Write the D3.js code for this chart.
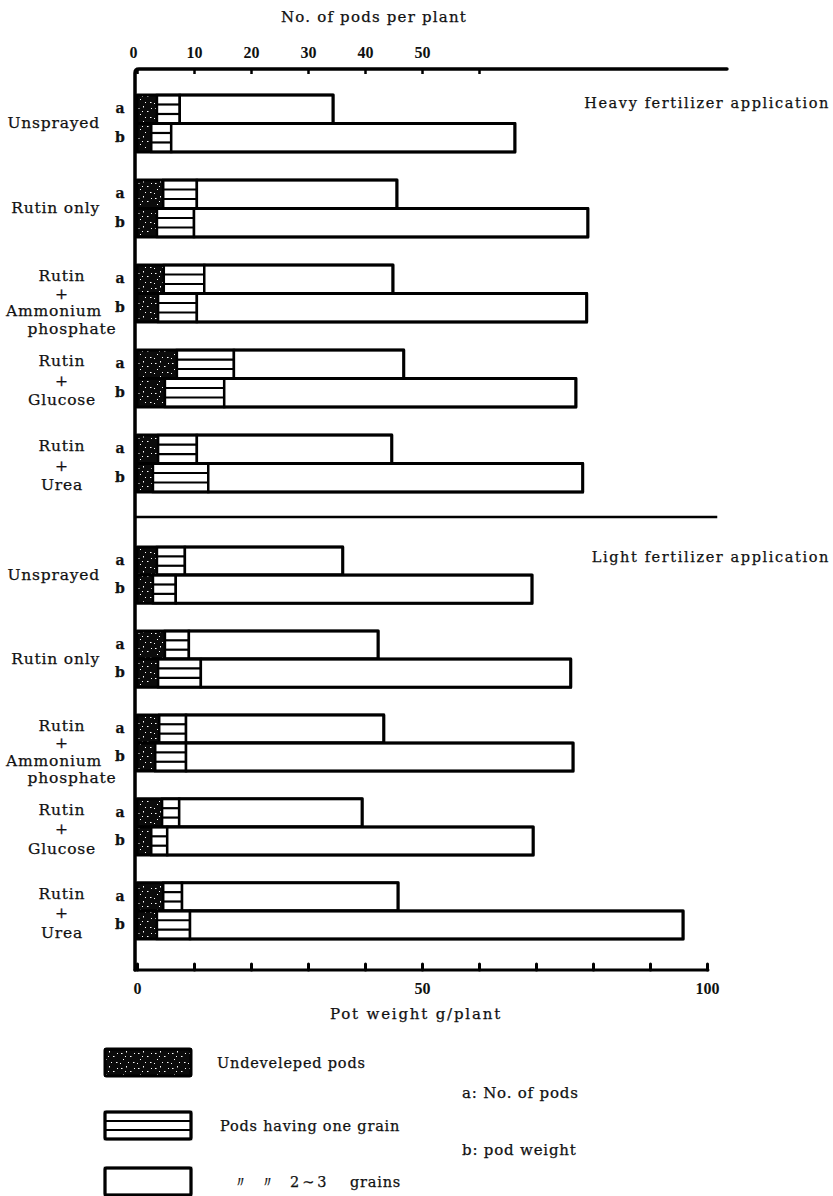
<!DOCTYPE html>
<html>
<head>
<meta charset="utf-8">
<script src="https://cdn.jsdelivr.net/npm/d3@7"></script>
<style>
  body { margin: 0; background: #fff; }
  .lbl { font-family: "DejaVu Serif", "Liberation Serif", serif; fill: #111; stroke: #111; stroke-width: 0.25; }
  .num { font-family: "Liberation Sans Narrow", "Liberation Serif", serif; font-weight: bold; fill: #111; }
</style>
</head>
<body>
<svg id="chart" width="833" height="1196"></svg>
<script>
// Treatments (top to bottom within each fertilizer level)
const treatments = ["Unsprayed", "Rutin only", "Rutin + Ammonium phosphate", "Rutin + Glucose", "Rutin + Urea"];
const treatmentLines = [["Unsprayed"], ["Rutin only"], ["Rutin", "+", "Ammonium", "phosphate"], ["Rutin", "+", "Glucose"], ["Rutin", "+", "Urea"]];
const segmentKeys = ["undeveloped", "oneGrain", "twoThree"];

// Heavy fertilizer — a: number of pods per plant
const heavyPodsUndeveloped = [3.5, 4.6, 4.7, 7.0, 3.7];
const heavyPodsOneGrain    = [4.0, 5.9, 7.1, 10.0, 6.8];
const heavyPodsTwoThree    = [26.9, 35.1, 33.1, 29.8, 34.2];
// Heavy fertilizer — b: pod weight g/plant
const heavyWeightUndeveloped = [2.5, 3.5, 3.7, 4.9, 2.8];
const heavyWeightOneGrain    = [3.5, 6.5, 6.8, 10.4, 9.7];
const heavyWeightTwoThree    = [60.3, 69.1, 68.4, 61.7, 65.7];

// Light fertilizer — a: number of pods per plant
const lightPodsUndeveloped = [3.5, 4.9, 3.9, 4.4, 4.6];
const lightPodsOneGrain    = [4.9, 4.2, 4.7, 3.0, 3.3];
const lightPodsTwoThree    = [27.7, 33.2, 34.7, 32.1, 37.9];
// Light fertilizer — b: pod weight g/plant
const lightWeightUndeveloped = [2.8, 3.7, 3.2, 2.5, 3.5];
const lightWeightOneGrain    = [4.0, 7.5, 5.4, 2.8, 5.8];
const lightWeightTwoThree    = [62.5, 64.9, 67.9, 64.2, 86.5];

// Axis ticks
const podTicks = [0, 10, 20, 30, 40, 50, 60];
const podTickLabels = ["0", "10", "20", "30", "40", "50", ""];
const weightTicks = [0, 10, 20, 30, 40, 50, 60, 70, 80, 90, 100];
const weightTickLabels = ["0", "", "", "", "", "50", "", "", "", "", "100"];

function rowsFrom(und, one, multi) {
  return treatments.map((t, i) => ({ treatment: t, undeveloped: und[i], oneGrain: one[i], twoThree: multi[i] }));
}

const svg = d3.select("#chart");
const x = d3.scaleLinear().domain([0, 100]).range([137, 707]);
const stack = d3.stack().keys(segmentKeys);

// Speckled dark fill for undeveloped pods
const defs = svg.append("defs");
const pat = defs.append("pattern").attr("id", "speckle")
  .attr("patternUnits", "userSpaceOnUse").attr("width", 17).attr("height", 15);
pat.append("rect").attr("width", 17).attr("height", 15).attr("fill", "#0b0b0b");
[[2, 3, 1.5, 1], [7, 1, 1, 1.5], [11, 6, 1.5, 1], [4, 9, 1, 1], [14, 12, 1.5, 1],
 [9, 12, 1, 1], [15, 3, 1, 1], [1, 13, 1, 1], [6, 6, 1, 1]].forEach(s => {
  pat.append("rect").attr("x", s[0]).attr("y", s[1]).attr("width", s[2]).attr("height", s[3]).attr("fill", "#fff");
});

const yHeavy = d3.scaleBand().domain(treatments).range([95, 492]).paddingInner(0.33).paddingOuter(0).align(0);
const yLight = d3.scaleBand().domain(treatments).range([547, 939]).paddingInner(0.33).paddingOuter(0).align(0);

function drawSegment(g, key, x0, x1, y, h) {
  if (key === "undeveloped") {
    g.append("rect").attr("x", x0).attr("y", y).attr("width", x1 - x0).attr("height", h)
      .attr("fill", "url(#speckle)").attr("stroke", "#000").attr("stroke-width", 1.5);
  } else if (key === "oneGrain") {
    g.append("rect").attr("x", x0).attr("y", y).attr("width", x1 - x0).attr("height", h)
      .attr("fill", "#fff").attr("stroke", "#000").attr("stroke-width", 2.5);
    [1, 2].forEach(k => {
      g.append("line").attr("x1", x0).attr("x2", x1)
        .attr("y1", y + h * k / 3).attr("y2", y + h * k / 3)
        .attr("stroke", "#000").attr("stroke-width", 2.2);
    });
  } else {
    g.append("rect").attr("x", x0).attr("y", y).attr("width", x1 - x0).attr("height", h)
      .attr("fill", "#fff").attr("stroke", "#000").attr("stroke-width", 2.5);
  }
}

function drawPanel(yScale, podRows, weightRows) {
  const sub = d3.scaleBand().domain(["a", "b"]).range([0, yScale.bandwidth()]);
  const g = svg.append("g");
  [["a", podRows], ["b", weightRows]].forEach(([m, rows]) => {
    const series = stack(rows);
    series.forEach(layer => {
      layer.forEach(d => {
        const y = yScale(d.data.treatment) + sub(m);
        drawSegment(g, layer.key, x(d[0]), x(d[1]), y, sub.bandwidth());
      });
    });
    // outer outline of each bar
    series[series.length - 1].forEach(d => {
      const y = yScale(d.data.treatment) + sub(m);
      g.append("rect").attr("x", x(0)).attr("y", y).attr("width", x(d[1]) - x(0)).attr("height", sub.bandwidth())
        .attr("fill", "none").attr("stroke", "#000").attr("stroke-width", 3).attr("stroke-linejoin", "round");
    });
    // a / b markers
    treatments.forEach(t => {
      g.append("text").attr("class", "lbl").attr("x", 120).attr("y", yScale(t) + sub(m) + sub.bandwidth() / 2 + 4)
        .attr("text-anchor", "middle").attr("font-size", 14).attr("font-weight", "bold").text(m);
    });
  });
  // treatment names
  treatmentLines.forEach((lines, i) => {
    const top = yScale(treatments[i]);
    if (lines.length === 1) {
      g.append("text").attr("class", "lbl").attr("x", 100).attr("y", top + yScale.bandwidth() / 2 + 5)
        .attr("text-anchor", "end").attr("font-size", 15.5).attr("letter-spacing", 0.8).text(lines[0]);
    } else {
      const step = lines.length > 3 ? 17.5 : 19.5;
      lines.forEach((ln, j) => {
        const dx = lines.length > 3 ? (j === 2 ? -8 : j === 3 ? 10 : 0) : 0;
        g.append("text").attr("class", "lbl").attr("x", 62 + dx).attr("y", top + 11 + j * step + 5)
          .attr("text-anchor", "middle").attr("font-size", 15.5).attr("letter-spacing", 0.8).text(ln);
      });
    }
  });
}

drawPanel(yHeavy,
  rowsFrom(heavyPodsUndeveloped, heavyPodsOneGrain, heavyPodsTwoThree),
  rowsFrom(heavyWeightUndeveloped, heavyWeightOneGrain, heavyWeightTwoThree));
drawPanel(yLight,
  rowsFrom(lightPodsUndeveloped, lightPodsOneGrain, lightPodsTwoThree),
  rowsFrom(lightWeightUndeveloped, lightWeightOneGrain, lightWeightTwoThree));

// Frame: top axis line, left axis, bottom axis, divider between fertilizer levels
const xl = x(0) - 2;
const yTop = 69, yBottom = 970;
svg.append("path")
  .attr("d", `M${xl},${yBottom} L${xl},${yTop + 4} Q${xl},${yTop} ${xl + 4},${yTop} L${x(103.5)},${yTop}`)
  .attr("fill", "none").attr("stroke", "#000").attr("stroke-width", 3.5).attr("stroke-linecap", "round");
svg.append("line").attr("x1", xl).attr("x2", x(100) + 1).attr("y1", yBottom).attr("y2", yBottom)
  .attr("stroke", "#000").attr("stroke-width", 3).attr("stroke-linecap", "round");
svg.append("line").attr("x1", xl).attr("x2", x(101.8)).attr("y1", 517).attr("y2", 517)
  .attr("stroke", "#000").attr("stroke-width", 2.5);

// Top axis: number of pods per plant
const topAxis = svg.append("g").attr("transform", `translate(0,${yTop})`)
  .call(d3.axisTop(x).tickValues(podTicks).tickSizeInner(-5).tickSizeOuter(0).tickPadding(11)
    .tickFormat((d, i) => podTickLabels[i]));
topAxis.select(".domain").remove();
topAxis.selectAll(".tick line").attr("stroke", "#000").attr("stroke-width", 2.5);
topAxis.selectAll(".tick text").attr("class", "num").attr("font-size", 16).attr("fill", "#111");
topAxis.selectAll(".tick").filter(d => d === 0).select("text").attr("dx", -4);

// Bottom axis: pod weight g/plant
const bottomAxis = svg.append("g").attr("transform", `translate(0,${yBottom})`)
  .call(d3.axisBottom(x).tickValues(weightTicks).tickSizeInner(-6).tickSizeOuter(0).tickPadding(13)
    .tickFormat((d, i) => weightTickLabels[i]));
bottomAxis.select(".domain").remove();
bottomAxis.selectAll(".tick line").attr("stroke", "#000").attr("stroke-width", 3).attr("stroke-linecap", "round");
bottomAxis.selectAll(".tick text").attr("class", "num").attr("font-size", 16).attr("fill", "#111");

// Titles
svg.append("text").attr("class", "lbl").attr("x", 374).attr("y", 22).attr("text-anchor", "middle")
  .attr("font-size", 15).attr("letter-spacing", 1.2).text("No.  of pods per plant");
svg.append("text").attr("class", "lbl").attr("x", 416).attr("y", 1019).attr("text-anchor", "middle")
  .attr("font-size", 15).attr("letter-spacing", 1.8).text("Pot weight g/plant");
svg.append("text").attr("class", "lbl").attr("x", 830).attr("y", 108).attr("text-anchor", "end")
  .attr("font-size", 14.5).attr("letter-spacing", 1.6).text("Heavy fertilizer application");
svg.append("text").attr("class", "lbl").attr("x", 830).attr("y", 562).attr("text-anchor", "end")
  .attr("font-size", 14.5).attr("letter-spacing", 1.6).text("Light fertilizer application");

// Legend
const legend = svg.append("g");
const sw = { x0: 105, x1: 191, h: 27 };
const legendItems = [
  { key: "undeveloped", y: 1049, parts: [["Undeveleped pods", 217]] },
  { key: "oneGrain", y: 1112, parts: [["Pods having one grain", 220]] },
  { key: "twoThree", y: 1168, parts: [["〃", 233], ["〃", 260], ["2∼3", 290], ["grains", 350]] }
];
legendItems.forEach(it => {
  drawSegment(legend, it.key, sw.x0, sw.x1, it.y, sw.h);
  legend.append("rect").attr("x", sw.x0).attr("y", it.y).attr("width", sw.x1 - sw.x0).attr("height", sw.h)
    .attr("fill", "none").attr("stroke", "#000").attr("stroke-width", 3).attr("rx", 1.5);
  it.parts.forEach(([txt, tx]) => {
    legend.append("text").attr("class", "lbl").attr("x", tx).attr("y", it.y + sw.h / 2 + 5)
      .attr("font-size", 14.5).attr("letter-spacing", txt === "2∼3" ? 3 : 0.8).text(txt);
  });
});
legend.append("text").attr("class", "lbl").attr("x", 462).attr("y", 1098)
  .attr("font-size", 15).attr("letter-spacing", 0.8).text("a: No. of  pods");
legend.append("text").attr("class", "lbl").attr("x", 462).attr("y", 1155)
  .attr("font-size", 15).attr("letter-spacing", 0.8).text("b: pod  weight");
</script>
</body>
</html>
